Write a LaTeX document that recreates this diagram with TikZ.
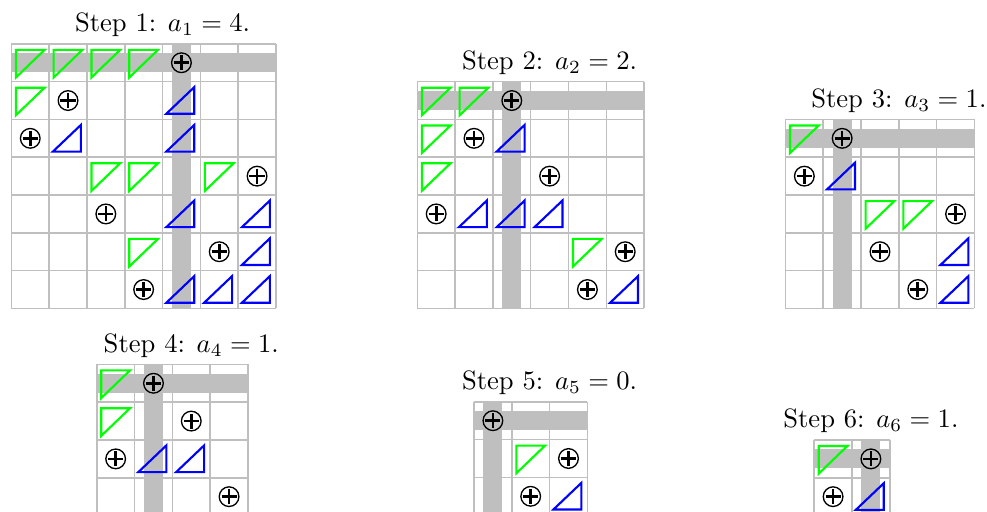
\documentclass[tikz,border=0pt]{standalone}
\usepackage{amsmath}
\usepackage{tikz}

\tikzset{
  cellgrid/.style={lightgray, line width=0.6pt, step=1},
  band/.style={fill=lightgray},
  title/.style={anchor=base},
  % cell marks, cell (r,c) has its top-left corner at (c,-r)
  pics/gtri/.style={code={\draw[green, thick] (0.12,-0.16) -- (0.88,-0.16) -- (0.12,-0.89) -- cycle;}},
  pics/btri/.style={code={\draw[blue, thick] (0.1,-0.85) -- (0.84,-0.85) -- (0.84,-0.145) -- cycle;}},
  pics/xplus/.style={code={%
    \draw[line width=0.5pt] (0.5,-0.5) circle (0.26);
    \draw[line width=1pt] (0.3,-0.5) -- (0.7,-0.5) (0.5,-0.3) -- (0.5,-0.7);}},
}

\begin{document}
\begin{tikzpicture}
    \useasboundingbox (0,0) rectangle (13.056,-6.772);
    \clip (0,0) rectangle (13.056,-6.772);
    % Step 1
    \begin{scope}[shift={(0.15,-0.58)}, x=0.5cm, y=0.5cm]
        \fill[band] (0,-0.25) rectangle (7,-0.75);
        \fill[band] (4.25,0) rectangle (4.75,-7);
        \draw[cellgrid] (0,-7) grid (7,0);
        \foreach \r/\c in {0/0,0/1,0/2,0/3,1/0,3/2,3/3,3/5,5/3} \pic at (\c,-\r) {gtri};
        \foreach \r/\c in {1/4,2/1,2/4,4/4,4/6,5/6,6/4,6/5,6/6} \pic at (\c,-\r) {btri};
        \foreach \r/\c in {0/4,1/1,2/0,3/6,4/2,5/5,6/3} \pic at (\c,-\r) {xplus};
        \node[title] (t1) at (4,0.32) {Step 1: $a_1 = 4$.};
    \end{scope}
    % Step 2
    \begin{scope}[shift={(5.52,-1.08)}, x=0.5cm, y=0.5cm]
        \fill[band] (0,-0.25) rectangle (6,-0.75);
        \fill[band] (2.25,0) rectangle (2.75,-6);
        \draw[cellgrid] (0,-6) grid (6,0);
        \foreach \r/\c in {0/0,0/1,1/0,2/0,4/4} \pic at (\c,-\r) {gtri};
        \foreach \r/\c in {1/2,3/1,3/2,3/3,5/5} \pic at (\c,-\r) {btri};
        \foreach \r/\c in {0/2,1/1,2/3,3/0,4/5,5/4} \pic at (\c,-\r) {xplus};
        \node[title] (t2) at (3.5,0.32) {Step 2: $a_2 = 2$.};
    \end{scope}
    % Step 3
    \begin{scope}[shift={(10.39,-1.58)}, x=0.5cm, y=0.5cm]
        \fill[band] (0,-0.25) rectangle (5,-0.75);
        \fill[band] (1.25,0) rectangle (1.75,-5);
        \draw[cellgrid] (0,-5) grid (5,0);
        \foreach \r/\c in {0/0,2/2,2/3} \pic at (\c,-\r) {gtri};
        \foreach \r/\c in {1/1,3/4,4/4} \pic at (\c,-\r) {btri};
        \foreach \r/\c in {0/1,1/0,2/4,3/2,4/3} \pic at (\c,-\r) {xplus};
        \node[title] (t3) at (3,0.32) {Step 3: $a_3 = 1$.};
    \end{scope}
    % Step 4
    \begin{scope}[shift={(1.28,-4.82)}, x=0.5cm, y=0.5cm]
        \fill[band] (0,-0.25) rectangle (4,-0.75);
        \fill[band] (1.25,0) rectangle (1.75,-4);
        \draw[cellgrid] (0,-4) grid (4,0);
        \foreach \r/\c in {0/0,1/0} \pic at (\c,-\r) {gtri};
        \foreach \r/\c in {2/1,2/2} \pic at (\c,-\r) {btri};
        \foreach \r/\c in {0/1,1/2,2/0,3/3} \pic at (\c,-\r) {xplus};
        \node[title] (t4) at (2.5,0.32) {Step 4: $a_4 = 1$.};
    \end{scope}
    % Step 5
    \begin{scope}[shift={(6.27,-5.315)}, x=0.5cm, y=0.5cm]
        \fill[band] (0,-0.25) rectangle (3,-0.75);
        \fill[band] (0.25,0) rectangle (0.75,-3);
        \draw[cellgrid] (0,-3) grid (3,0);
        \pic at (1,-1) {gtri};
        \pic at (2,-2) {btri};
        \foreach \r/\c in {0/0,1/2,2/1} \pic at (\c,-\r) {xplus};
        \node[title] (t5) at (2,0.32) {Step 5: $a_5 = 0$.};
    \end{scope}
    % Step 6
    \begin{scope}[shift={(10.77,-5.82)}, x=0.5cm, y=0.5cm]
        \fill[band] (0,-0.25) rectangle (2,-0.75);
        \fill[band] (1.25,0) rectangle (1.75,-2);
        \draw[cellgrid] (0,-2) grid (2,0);
        \pic at (0,0) {gtri};
        \pic at (1,-1) {btri};
        \foreach \r/\c in {0/1,1/0} \pic at (\c,-\r) {xplus};
        \node[title] (t6) at (1.5,0.32) {Step 6: $a_6 = 1$.};
    \end{scope}
\end{tikzpicture}
\end{document}
